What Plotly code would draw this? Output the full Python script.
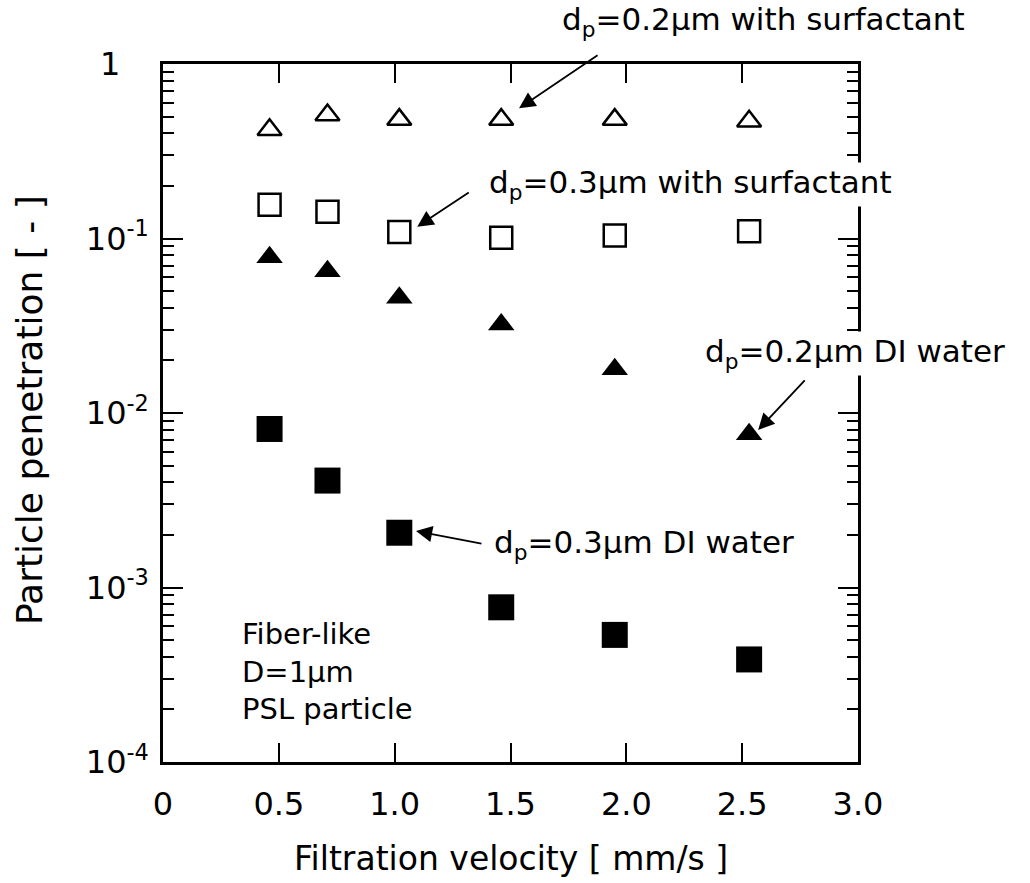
import plotly.graph_objects as go

# ---------------- data ----------------
velocity = [0.46, 0.71, 1.02, 1.46, 1.95, 2.53]
pen_02_surf = [0.42, 0.51, 0.48, 0.48, 0.48, 0.47]
pen_03_surf = [0.156, 0.1425, 0.109, 0.101, 0.104, 0.110]
pen_02_di = [0.078, 0.0649, 0.0457, 0.0322, 0.0178, 0.00755]
pen_03_di = [0.0081, 0.0041, 0.00206, 0.00077, 0.000535, 0.000387]

x_tick_vals = [0, 0.5, 1.0, 1.5, 2.0, 2.5, 3.0]
x_tick_text = ["0", "0.5", "1.0", "1.5", "2.0", "2.5", "3.0"]
y_tick_vals = [1e-4, 1e-3, 1e-2, 1e-1, 1]
y_tick_text = ["10<sup>-4</sup>", "10<sup>-3</sup>", "10<sup>-2</sup>",
               "10<sup>-1</sup>", "1<sup>\u2007\u2007</sup>"]
y_minor_vals = [k * 10.0 ** e for e in range(-4, 0) for k in range(2, 10)]

FONT = "DejaVu Sans"

fig = go.Figure()

fig.add_trace(go.Scatter(
    x=velocity, y=pen_02_surf, mode="markers",
    marker=dict(symbol="triangle-up-open", size=21, color="black",
                line=dict(width=2.5, color="black")),
    showlegend=False))
fig.add_trace(go.Scatter(
    x=velocity, y=pen_03_surf, mode="markers",
    marker=dict(symbol="square-open", size=22, color="black",
                line=dict(width=2.5, color="black")),
    showlegend=False))
fig.add_trace(go.Scatter(
    x=velocity, y=pen_02_di, mode="markers",
    marker=dict(symbol="triangle-up", size=23, color="black",
                line=dict(width=0)),
    showlegend=False))
fig.add_trace(go.Scatter(
    x=velocity, y=pen_03_di, mode="markers",
    marker=dict(symbol="square", size=26, color="black",
                line=dict(width=0)),
    showlegend=False))

# plot area in pixels (for paper-coordinate placement of text)
L, R, T, B = 163, 858, 64, 762
W, H = R - L, B - T


def px(xp):
    return (xp - L) / W


def py(yp):
    return (B - yp) / H


annotations = []

# arrows: head (data coords, log10 for y) and tail offset in pixels
arrows = [
    (1.537, -0.254, 80, -54),
    (1.0975, -0.932, 53, -35),
    (2.569, -2.097, 48, -51),
    (1.092, -2.676, 67, 13),
]
for hx, hy, ax, ay in arrows:
    annotations.append(dict(
        x=hx, y=hy, xref="x", yref="y", ax=ax, ay=ay, text="",
        showarrow=True, arrowhead=2, arrowsize=1.8, arrowwidth=1.8,
        arrowcolor="black"))

texts = [
    ("d<sub>p</sub>=0.2\u03bcm with surfactant", 560, 21, None),
    ("d<sub>p</sub>=0.3\u03bcm with surfactant", 487, 184, "white"),
    ("d<sub>p</sub>=0.2\u03bcm DI water", 703, 354, "white"),
    ("d<sub>p</sub>=0.3\u03bcm DI water", 492, 544, None),
]
for t, xp, yp, bg in texts:
    a = dict(x=px(xp), y=py(yp), xref="paper", yref="paper", text=t,
             showarrow=False, xanchor="left", yanchor="middle",
             font=dict(family=FONT, size=31, color="black"))
    if bg:
        a["bgcolor"] = bg
    annotations.append(a)

annotations.append(dict(
    x=px(240), y=py(671), xref="paper", yref="paper",
    text="Fiber-like<br>D=1\u03bcm<br>PSL particle", align="left",
    showarrow=False, xanchor="left", yanchor="middle",
    font=dict(family=FONT, size=29, color="black")))

# axis titles
annotations.append(dict(
    x=0.5, y=py(858), xref="paper", yref="paper",
    text="Filtration velocity [ mm/s ]", showarrow=False,
    xanchor="center", yanchor="middle",
    font=dict(family=FONT, size=33, color="black")))
annotations.append(dict(
    x=px(29), y=py(410), xref="paper", yref="paper",
    text="Particle penetration [ - ]", showarrow=False, textangle=-90,
    xanchor="center", yanchor="middle",
    font=dict(family=FONT, size=36, color="black")))

fig.update_layout(
    width=1030, height=883, autosize=False,
    margin=dict(l=L, r=1030 - R, t=T, b=883 - B),
    plot_bgcolor="white", paper_bgcolor="white",
    font=dict(family=FONT, color="black"),
    annotations=annotations,
)

fig.update_xaxes(
    range=[0, 3], showgrid=False, zeroline=False,
    showline=True, linecolor="black", linewidth=2.5, mirror="ticks",
    ticks="inside", ticklen=19, tickwidth=2, tickcolor="black",
    tickmode="array", tickvals=x_tick_vals, ticktext=x_tick_text,
    tickfont=dict(family=FONT, size=32, color="black"),
    ticklabelstandoff=12,
)
fig.update_yaxes(
    type="log", range=[-4, 0], showgrid=False, zeroline=False,
    showline=True, linecolor="black", linewidth=2.5, mirror="ticks",
    ticks="inside", ticklen=20, tickwidth=2, tickcolor="black",
    tickmode="array", tickvals=y_tick_vals, ticktext=y_tick_text,
    tickfont=dict(family=FONT, size=32, color="black"),
    ticklabelstandoff=5,
    minor=dict(ticks="inside", ticklen=11, tickwidth=2, tickcolor="black",
               tickmode="array", tickvals=y_minor_vals, showgrid=False),
)

fig.write_html("out.html")
